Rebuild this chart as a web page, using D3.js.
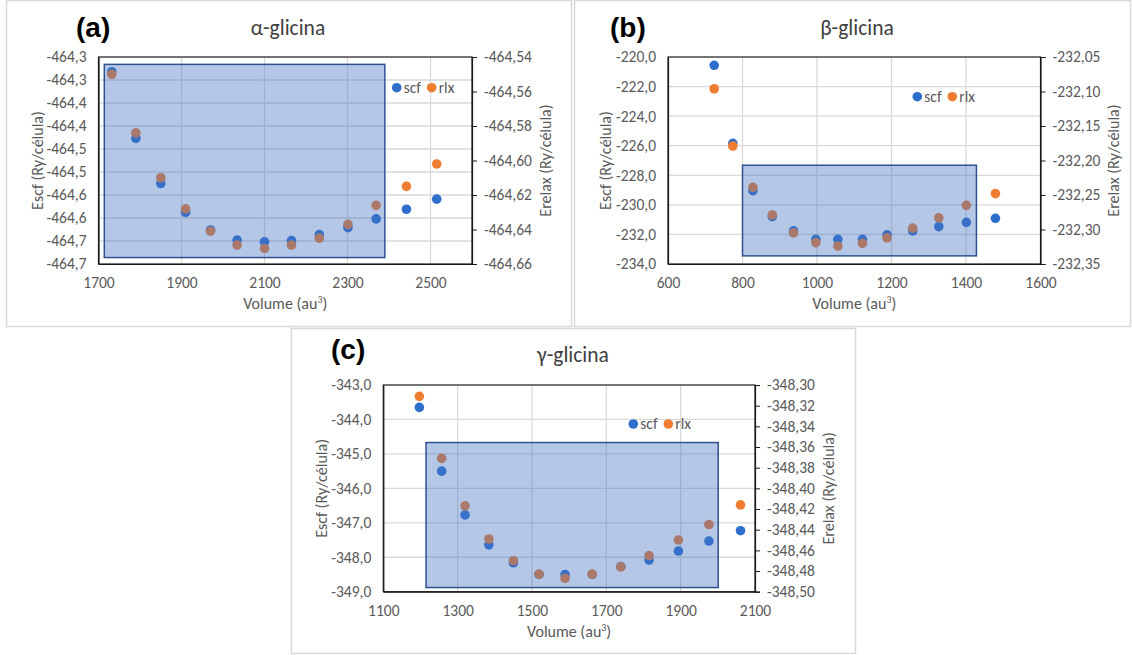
<!DOCTYPE html>
<html><head><meta charset="utf-8">
<script src="https://cdn.jsdelivr.net/npm/d3@7"></script>
<style>
body{margin:0;background:#fff;}
svg{display:block;font-family:Calibri,Carlito,Lato,"Open Sans",sans-serif;}
</style></head>
<body><svg id="c" width="1132" height="655"></svg>
<script>
// ---------- data ----------
const volA = [1732,1790,1850,1910,1970,2034,2100,2165,2232,2301,2369,2442,2515];
const scfA = [-464.282,-464.427,-464.525,-464.588,-464.626,-464.648,-464.652,-464.649,-464.636,-464.621,-464.602,-464.581,-464.559];
const rlxA = [-464.550,-464.584,-464.610,-464.628,-464.641,-464.649,-464.651,-464.649,-464.645,-464.637,-464.626,-464.615,-464.602];

const volB = [724,774,828,880,937,997,1056,1122,1188,1257,1327,1401,1479];
const scfB = [-220.56,-225.84,-229.04,-230.80,-231.76,-232.33,-232.33,-232.33,-232.03,-231.76,-231.47,-231.18,-230.91];
const rlxB = [-232.096,-232.179,-232.239,-232.279,-232.305,-232.319,-232.324,-232.320,-232.312,-232.298,-232.283,-232.265,-232.248];

const volC = [1197,1257,1320,1384,1450,1519,1589,1662,1739,1815,1894,1976,2061];
const scfC = [-343.65,-345.50,-346.77,-347.64,-348.16,-348.50,-348.50,-348.50,-348.27,-348.08,-347.82,-347.53,-347.23];
const rlxC = [-348.311,-348.371,-348.417,-348.449,-348.470,-348.483,-348.487,-348.483,-348.476,-348.465,-348.450,-348.435,-348.416];

// axis ticks and labels
const xTicksA = [1700,1900,2100,2300,2500];
const xDomA = [1700,2600];
const lTicksA = [-464.25,-464.30,-464.35,-464.40,-464.45,-464.50,-464.55,-464.60,-464.65,-464.70];
const lLabelsA = ["-464,3","-464,3","-464,4","-464,4","-464,5","-464,5","-464,6","-464,6","-464,7","-464,7"];
const rTicksA = [-464.54,-464.56,-464.58,-464.60,-464.62,-464.64,-464.66];
const rLabelsA = ["-464,54","-464,56","-464,58","-464,60","-464,62","-464,64","-464,66"];

const xTicksB = [600,800,1000,1200,1400,1600];
const xDomB = [600,1600];
const lTicksB = [-220,-222,-224,-226,-228,-230,-232,-234];
const lLabelsB = ["-220,0","-222,0","-224,0","-226,0","-228,0","-230,0","-232,0","-234,0"];
const rTicksB = [-232.05,-232.10,-232.15,-232.20,-232.25,-232.30,-232.35];
const rLabelsB = ["-232,05","-232,10","-232,15","-232,20","-232,25","-232,30","-232,35"];

const xTicksC = [1100,1300,1500,1700,1900,2100];
const xDomC = [1100,2100];
const lTicksC = [-343,-344,-345,-346,-347,-348,-349];
const lLabelsC = ["-343,0","-344,0","-345,0","-346,0","-347,0","-348,0","-349,0"];
const rTicksC = [-348.30,-348.32,-348.34,-348.36,-348.38,-348.40,-348.42,-348.44,-348.46,-348.48,-348.50];
const rLabelsC = ["-348,30","-348,32","-348,34","-348,36","-348,38","-348,40","-348,42","-348,44","-348,46","-348,48","-348,50"];

// highlighted box in data units [x0, x1, yTop, yBottom] (left axis)
const boxA = [1714, 2390, -464.266, -464.686];
const boxB = [800, 1428, -227.32, -233.45];
const boxC = [1215, 2001, -344.67, -348.88];

const titles = ["α-glicina","β-glicina","γ-glicina"];
const letters = ["(a)","(b)","(c)"];
const seriesNames = ["scf","rlx"];

// ---------- style / layout ----------
const BLUE = "#2F6FCC", ORANGE = "#EE7D31";
const TXT = "#595959";
const FS_TICK = "15.5px", FS_AX = "16px", FS_LEG = "15.5px", FS_TITLE = "21.5px";
const svg = d3.select("#c");

const panels = [
  {frame:[6.5,0.5,565,326], plot:[98.5,472,57,264], vol:volA, scf:scfA, rlx:rlxA,
   xTicks:xTicksA, xDom:xDomA, lT:lTicksA, lL:lLabelsA, rT:rTicksA, rL:rLabelsA, box:boxA,
   title:titles[0], titleX:288, titleY:35, letter:letters[0], letterX:76, letterY:37,
   leg:[396.7,87.7], lTitleX:37, rTitleX:545},
  {frame:[574.5,0.5,556,326], plot:[668,1040.5,57,264], vol:volB, scf:scfB, rlx:rlxB,
   xTicks:xTicksB, xDom:xDomB, lT:lTicksB, lL:lLabelsB, rT:rTicksB, rL:rLabelsB, box:boxB,
   title:titles[1], titleX:857, titleY:35, letter:letters[1], letterX:610, letterY:37,
   leg:[917.3,96.7], lTitleX:605, rTitleX:1113},
  {frame:[291.5,328.5,564,325], plot:[383.3,755,385,591.7], vol:volC, scf:scfC, rlx:rlxC,
   xTicks:xTicksC, xDom:xDomC, lT:lTicksC, lL:lLabelsC, rT:rTicksC, rL:rLabelsC, box:boxC,
   title:titles[2], titleX:573, titleY:362, letter:letters[2], letterX:331, letterY:359,
   leg:[633.3,424], lTitleX:321, rTitleX:828}
];

panels.forEach(p => {
  const [px0, px1, py0, py1] = p.plot;
  const g = svg.append("g");
  g.append("rect").attr("x",p.frame[0]).attr("y",p.frame[1]).attr("width",p.frame[2]).attr("height",p.frame[3])
    .attr("fill","#fff").attr("stroke","#d9d9d9").attr("stroke-width",1.5);

  const x = d3.scaleLinear().domain(p.xDom).range([px0, px1]);
  const yL = d3.scaleLinear().domain([p.lT[p.lT.length-1], p.lT[0]]).range([py1, py0]);
  const yR = d3.scaleLinear().domain([p.rT[p.rT.length-1], p.rT[0]]).range([py1, py0]);

  // gridlines
  g.append("g").selectAll("line").data(p.xTicks.filter(v => v > p.xDom[0] && v < p.xDom[1]))
    .join("line").attr("x1",d=>x(d)).attr("x2",d=>x(d)).attr("y1",py0).attr("y2",py1)
    .attr("stroke","#d9d9d9").attr("stroke-width",1.3);
  g.append("g").selectAll("line").data(p.lT.slice(1,-1))
    .join("line").attr("x1",px0).attr("x2",px1).attr("y1",d=>yL(d)).attr("y2",d=>yL(d))
    .attr("stroke","#d9d9d9").attr("stroke-width",1.3);

  // plot border
  g.append("rect").attr("x",px0).attr("y",py0).attr("width",px1-px0).attr("height",py1-py0)
    .attr("fill","none").attr("stroke","#1a1a1a").attr("stroke-width",1.2);

  // axes
  const axL = d3.axisLeft(yL).tickValues(p.lT).tickSize(0).tickPadding(12)
    .tickFormat((d,i)=>p.lL[i]);
  const gL = g.append("g").attr("transform",`translate(${px0},0)`).call(axL);
  const axR = d3.axisRight(yR).tickValues(p.rT).tickSize(5).tickPadding(7)
    .tickFormat((d,i)=>p.rL[i]);
  const gR = g.append("g").attr("transform",`translate(${px1},0)`).call(axR);
  const axB = d3.axisBottom(x).tickValues(p.xTicks).tickSize(0).tickPadding(13)
    .tickFormat(d=>String(d));
  const gB = g.append("g").attr("transform",`translate(0,${py1})`).call(axB);
  [gL,gR,gB].forEach(a=>{
    a.select(".domain").attr("stroke","#1a1a1a").attr("stroke-width",1.2);
    a.selectAll(".tick line").attr("stroke","#1a1a1a");
    a.selectAll("text").attr("fill",TXT).style("font-size",FS_TICK).style("font-family","Calibri,Carlito,Lato,sans-serif");
  });

  // points
  g.append("g").selectAll("circle").data(p.vol.map((v,i)=>[v,p.scf[i]]))
    .join("circle").attr("cx",d=>x(d[0])).attr("cy",d=>yL(d[1])).attr("r",4.8).attr("fill",BLUE);
  g.append("g").selectAll("circle").data(p.vol.map((v,i)=>[v,p.rlx[i]]))
    .join("circle").attr("cx",d=>x(d[0])).attr("cy",d=>yR(d[1])).attr("r",4.8).attr("fill",ORANGE);

  // highlight box
  g.append("rect").attr("x",x(p.box[0])).attr("y",yL(p.box[2]))
    .attr("width",x(p.box[1])-x(p.box[0])).attr("height",yL(p.box[3])-yL(p.box[2]))
    .attr("fill","rgba(68,114,196,0.4)").attr("stroke","#2F528F").attr("stroke-width",1.5);

  // legend
  const [lx, ly] = p.leg;
  const leg = g.append("g");
  seriesNames.forEach((s,i)=>{
    const cx = lx + i*35;
    leg.append("circle").attr("cx",cx).attr("cy",ly).attr("r",4.8).attr("fill",i?ORANGE:BLUE);
    leg.append("text").attr("x",cx+7).attr("y",ly+5).text(s).attr("fill",TXT).style("font-size",FS_LEG);
  });

  // titles
  g.append("text").attr("x",p.titleX).attr("y",p.titleY).attr("text-anchor","middle")
    .text(p.title).attr("fill","#404040").style("font-size",FS_TITLE);
  g.append("text").attr("x",p.letterX).attr("y",p.letterY).text(p.letter)
    .attr("fill","#000").style("font-size","28px").style("font-weight","bold")
    .style("font-family","Arial,'Liberation Sans',sans-serif");

  // axis titles
  g.append("text").attr("x",(px0+px1)/2).attr("y",py1+45).attr("text-anchor","middle")
    .attr("fill",TXT).style("font-size",FS_AX)
    .html('Volume (au<tspan dy="-6" font-size="10px">3</tspan><tspan dy="6">)</tspan>');
  g.append("text").attr("transform",`translate(${p.lTitleX},${(py0+py1)/2}) rotate(-90)`)
    .attr("text-anchor","middle").attr("dy","0.35em").attr("fill",TXT).style("font-size",FS_AX)
    .text("Escf (Ry/célula)");
  g.append("text").attr("transform",`translate(${p.rTitleX},${(py0+py1)/2}) rotate(-90)`)
    .attr("text-anchor","middle").attr("dy","0.35em").attr("fill",TXT).style("font-size",FS_AX)
    .text("Erelax (Ry/célula)");
});
</script></body></html>
